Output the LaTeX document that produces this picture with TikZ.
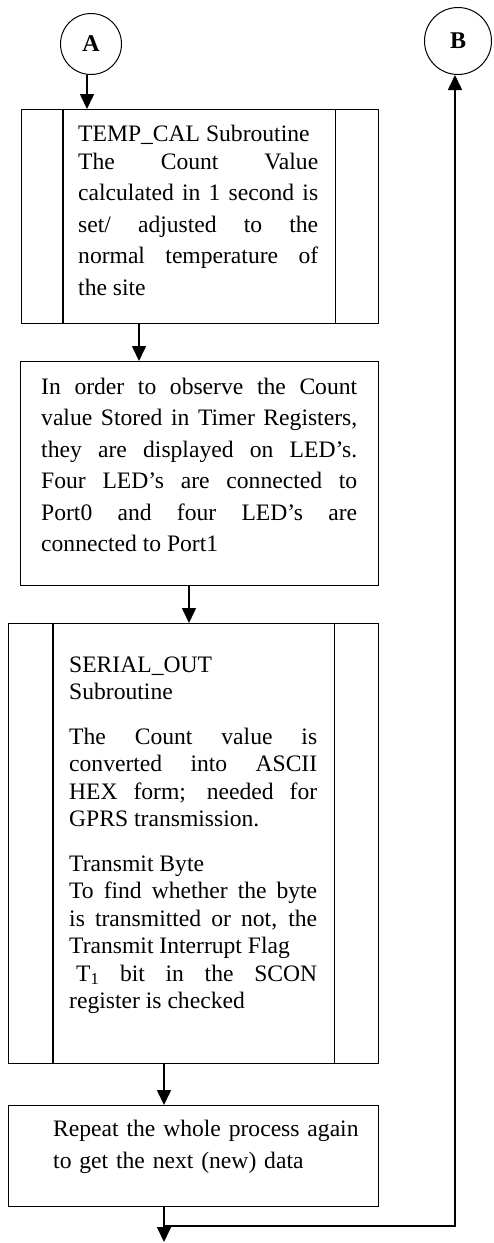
\documentclass[tikz,border=0pt]{standalone}
\usepackage{fontspec}
\setmainfont{Liberation Serif}
\usetikzlibrary{arrows.meta}

\tikzset{
  conn/.style={draw, circle, line width=1pt, minimum size=61pt, inner sep=0pt,
    font=\fontsize{24}{28}\selectfont\bfseries},
  procbox/.style={draw, rectangle, line width=1.2pt, anchor=north west, inner sep=0pt},
  subbar/.style={line width=1.2pt},
  flowtext/.style={anchor=base west, inner sep=0pt, text width=#1, align=justify,
    font=\fontsize{23.6}{31.5}\selectfont,
    execute at begin node={\tolerance=10000\hbadness=10000}},
  flowarrow/.style={line width=1.6pt, -{Triangle[length=15pt,width=14pt]}},
}

\begin{document}
\begin{tikzpicture}[x=1pt,y=-1pt]
	\useasboundingbox (0,0) rectangle (493,1243);
	
	% Connectors A and B
	\node[conn] (A) at (91,44) {A};
	\node[conn, minimum size=67pt] (B) at (458,41) {B};
	
	% TEMP_CAL subroutine
	\node[procbox, minimum width=357pt, minimum height=214pt] (tcal) at (21,109) {};
	\draw[subbar] ([xshift=42pt]tcal.north west) -- ([xshift=42pt]tcal.south west);
	\draw[subbar] ([xshift=-44pt]tcal.north east) -- ([xshift=-44pt]tcal.south east);
	\node[flowtext=240pt] (tcaltext) at (78,141.7) {TEMP\_CAL Subroutine\\[-4pt]
		The Count Value\linebreak calculated in 1 second is\linebreak
		set/ adjusted to the\linebreak normal temperature of\linebreak the site};
	
	% Display on LED's
	\node[procbox, minimum width=358pt, minimum height=224pt] (leds) at (20,361) {};
	\node[flowtext=316pt] (ledstext) at (41,394) {In order to observe the Count\linebreak
		value Stored in Timer Registers,\linebreak they are displayed on LED’s.\linebreak
		Four LED’s are connected to\linebreak Port0 and four LED’s are\linebreak
		connected to Port1};
	
	% SERIAL_OUT subroutine
	\node[procbox, minimum width=370pt, minimum height=440pt] (serout) at (8,623) {};
	\draw[subbar] ([xshift=45pt]serout.north west) -- ([xshift=45pt]serout.south west);
	\draw[subbar] ([xshift=-45pt]serout.north east) -- ([xshift=-45pt]serout.south east);
	\node[flowtext=248pt, font=\fontsize{23.6}{27.5}\selectfont] (serouttext) at (69,672) {SERIAL\_OUT\\
		Subroutine\\[17pt]
		The Count value is\linebreak converted into ASCII\linebreak
		HEX form; needed for\linebreak GPRS transmission.\\[17pt]
		Transmit Byte\\
		To find whether the byte\linebreak is transmitted or not, the\linebreak
		Transmit Interrupt Flag\\
		\hspace*{7pt}T\textsubscript{1} bit in the SCON\linebreak register is checked};
	
	% Repeat
	\node[procbox, minimum width=370pt, minimum height=101pt] (repeat) at (8,1105) {};
	\node[flowtext=320pt, align=left, font=\fontsize{23.6}{31.3}\selectfont] (repeattext) at (53,1136.7)
		{Repeat the whole process again\\ to get the next (new) data};
	
	% Arrows
	\draw[flowarrow] ([xshift=-4pt]A.south) -- ([xshift=66pt]tcal.north west);
	\draw[flowarrow] ([xshift=118pt]tcal.south west) -- ([xshift=119pt]leds.north west);
	\draw[flowarrow] ([xshift=169pt]leds.south west) -- ([xshift=181pt]serout.north west);
	\draw[flowarrow] ([xshift=156pt]serout.south west) -- ([xshift=156pt]repeat.north west);
	
	% Exit and loop to B
	\coordinate (rjoin) at (164,1226);
	\coordinate (rend) at (164,1242);
	\draw[flowarrow] ([xshift=156pt]repeat.south west) -- (rend);
	\draw[flowarrow] (rjoin) -| ([xshift=-3pt]B.south);
\end{tikzpicture}
\end{document}
